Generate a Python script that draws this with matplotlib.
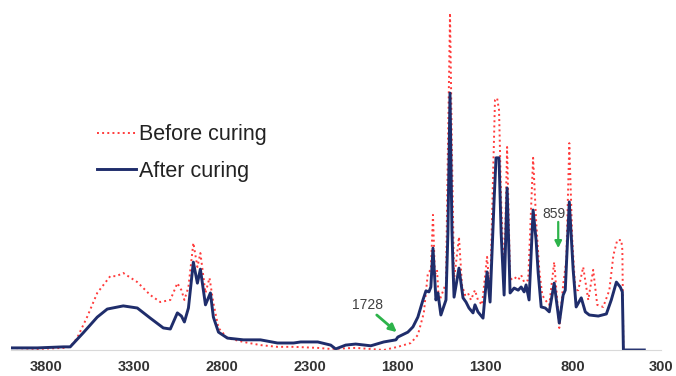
import matplotlib.pyplot as plt

plt.rcParams['font.family'] = ['Liberation Sans', 'DejaVu Sans']

# FTIR spectra (wavenumber cm-1, absorbance a.u.)
before_wn = [4000, 3850, 3700, 3663, 3624, 3567, 3509, 3435, 3400, 3361, 3281, 3207,
             3150, 3093, 3053, 3030, 3013, 2990, 2962, 2939, 2922, 2893, 2870, 2848,
             2819, 2768, 2677, 2580, 2483, 2391, 2254, 2180, 2038, 1878, 1798, 1724,
             1684, 1650, 1627, 1610, 1598, 1587, 1575, 1564, 1524, 1513, 1501, 1490,
             1478, 1450, 1433, 1416, 1399, 1382, 1359, 1342, 1319, 1290, 1273, 1245,
             1233, 1222, 1210, 1193, 1176, 1159, 1136, 1113, 1096, 1079, 1056, 1028,
             1011, 993, 976, 959, 936, 908, 891, 879, 857, 839, 822, 805, 788, 771,
             743, 714, 686, 663, 629, 594, 571, 549, 526, 520, 514, 395]
before_abs = [0.006, 0.003, 0.006, 0.009, 0.034, 0.094, 0.163, 0.211, 0.211, 0.220, 0.194, 0.157,
              0.137, 0.143, 0.191, 0.171, 0.143, 0.180, 0.306, 0.237, 0.277, 0.163, 0.206, 0.134,
              0.063, 0.034, 0.023, 0.014, 0.009, 0.009, 0.006, 0.003, 0.006, 0.0, 0.009, 0.020,
              0.043, 0.106, 0.220, 0.229, 0.386, 0.214, 0.229, 0.137, 0.191, 0.571, 0.963, 0.571,
              0.200, 0.323, 0.186, 0.157, 0.163, 0.143, 0.171, 0.143, 0.129, 0.266, 0.157, 0.714,
              0.720, 0.686, 0.429, 0.200, 0.580, 0.200, 0.209, 0.200, 0.214, 0.194, 0.200, 0.549,
              0.371, 0.229, 0.157, 0.143, 0.129, 0.251, 0.143, 0.063, 0.186, 0.257, 0.591, 0.314, 0.171, 0.171,
              0.237, 0.143, 0.229, 0.129, 0.123, 0.171, 0.271, 0.314, 0.314, 0.286, 0.0, 0.0]

after_wn = [4000, 3850, 3700, 3663, 3589, 3509, 3452, 3361, 3281, 3207, 3133, 3093,
            3053, 3030, 3013, 2990, 2962, 2939, 2922, 2893, 2865, 2848, 2819, 2768,
            2677, 2580, 2483, 2391, 2351, 2254, 2180, 2152, 2095, 2038, 1952, 1878,
            1809, 1798, 1741, 1712, 1684, 1655, 1638, 1621, 1610, 1598, 1581, 1570,
            1553, 1524, 1513, 1501, 1490, 1484, 1478, 1450, 1427, 1410, 1393, 1370,
            1359, 1342, 1313, 1290, 1273, 1250, 1239, 1222, 1210, 1193, 1176, 1159,
            1136, 1113, 1096, 1079, 1068, 1051, 1028, 1011, 999, 982, 959, 936, 908,
            879, 857, 845, 822, 800, 783, 754, 731, 708, 657, 611, 583, 554, 532, 520,
            514, 395]
after_abs = [0.006, 0.006, 0.009, 0.009, 0.049, 0.094, 0.117, 0.126, 0.120, 0.091, 0.063, 0.060,
             0.106, 0.097, 0.080, 0.120, 0.251, 0.191, 0.231, 0.129, 0.163, 0.094, 0.051, 0.034,
             0.029, 0.029, 0.020, 0.020, 0.023, 0.023, 0.014, 0.003, 0.014, 0.017, 0.012, 0.023,
             0.029, 0.037, 0.051, 0.066, 0.094, 0.143, 0.169, 0.166, 0.180, 0.291, 0.143, 0.163,
             0.100, 0.143, 0.334, 0.734, 0.343, 0.237, 0.151, 0.234, 0.149, 0.137, 0.120, 0.106,
             0.129, 0.109, 0.091, 0.223, 0.137, 0.429, 0.549, 0.549, 0.334, 0.157, 0.463, 0.163,
             0.177, 0.171, 0.180, 0.166, 0.186, 0.143, 0.400, 0.314, 0.220, 0.123, 0.120, 0.109, 0.191,
             0.077, 0.157, 0.171, 0.423, 0.229, 0.123, 0.149, 0.109, 0.100, 0.097, 0.103, 0.143, 0.194, 0.180, 0.166,
             0.0, 0.0]

x_ticks = [3800, 3300, 2800, 2300, 1800, 1300, 800, 300]

fig = plt.figure(figsize=(6.76, 3.76), dpi=100)
ax = fig.add_axes([11 / 676, 26 / 376, 650 / 676, 350 / 376])

ax.plot(before_wn, before_abs, color='#ff3b3b', linestyle=':', linewidth=1.4,
        label='Before curing')
ax.plot(after_wn, after_abs, color='#1f2d6b', linestyle='-', linewidth=2.1,
        label='After curing')

ax.set_xlim(4000, 300)
ax.set_ylim(0, 1.0)
ax.set_xticks(x_ticks)
ax.set_xticklabels([str(t) for t in x_ticks], fontsize=10.5, fontweight='bold', color='#333333')
ax.tick_params(axis='x', length=0, pad=7)
ax.set_yticks([])
for side in ['top', 'right', 'left']:
    ax.spines[side].set_visible(False)
ax.spines['bottom'].set_color('#d9d9d9')

# peak markers: label text plus a green arrow pointing at the band
green = '#2db34a'
ax.text(1970, 0.129, '1728', fontsize=10, color='#404040', ha='center', va='center')
ax.annotate('', xy=(1804, 0.051), xytext=(1918, 0.100),
            arrowprops=dict(arrowstyle='-|>', color=green, lw=2, shrinkA=0, shrinkB=0,
                            mutation_scale=11))
ax.text(912, 0.389, '859', fontsize=10, color='#404040', ha='center', va='center')
ax.annotate('', xy=(885, 0.291), xytext=(885, 0.366),
            arrowprops=dict(arrowstyle='-|>', color=green, lw=1.6, shrinkA=0, shrinkB=0,
                            mutation_scale=10))

leg = ax.legend(loc='upper left', bbox_to_anchor=(0.132, 0.645), frameon=False, fontsize=15.5,
                handlelength=1.8, handletextpad=0.15, labelspacing=0.72,
                borderpad=0, borderaxespad=0)
for t in leg.get_texts():
    t.set_color('#222222')

fig.savefig('out.png', dpi=100)
